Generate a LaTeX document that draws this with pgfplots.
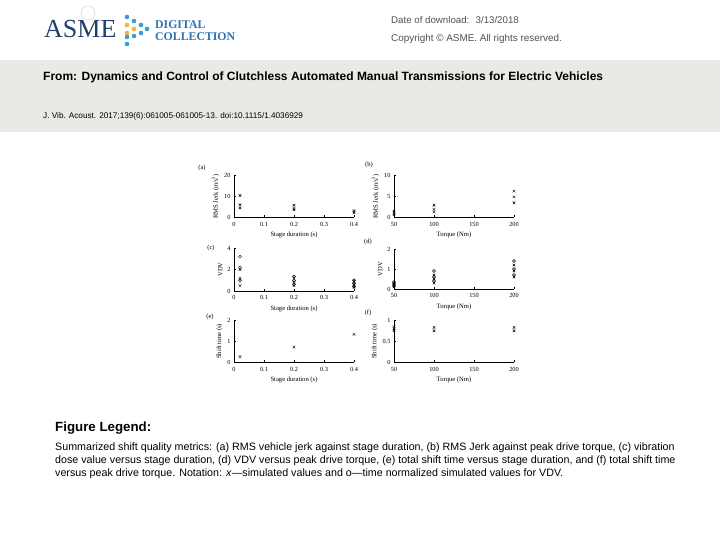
\documentclass[border=0pt]{standalone}
\usepackage{pgfplots}
\pgfplotsset{compat=1.18}
\usepackage{fontspec}
\setmainfont{Liberation Sans}
\newfontfamily\tnr{Liberation Serif}
\definecolor{band}{HTML}{EBE9E3}
\definecolor{asmenavy}{HTML}{1F3F6E}
\definecolor{asmeblue}{HTML}{3C9AD6}
\definecolor{asmeorange}{HTML}{F2B53A}
\definecolor{dcblue}{HTML}{2F74B5}
\definecolor{hdrgray}{HTML}{505050}
\pgfplotsset{sub/.style={scale only axis, width=120pt, clip=false,
  axis lines*=left, axis line style={black, line width=0.5pt},
  tick align=inside, major tick length=2pt, tick style={black, line width=0.4pt},
  tick label style={font=\tnr\fontsize{6.3}{7}\selectfont},
  label style={font=\tnr\fontsize{6.6}{7}\selectfont},
  /pgf/number format/assume math mode=true,
  xticklabel style={yshift=-1pt}, xlabel style={yshift=1pt}, ylabel style={yshift=-2pt}},
  xs/.style={only marks, black, mark=x, mark size=1.8pt, line width=0.45pt},
  os/.style={only marks, black, mark=o, mark size=1.5pt, line width=0.45pt},
  durx/.style={xmin=0, xmax=0.4, xtick={0,0.1,0.2,0.3,0.4},
  xticklabels={0,0.1,0.2,0.3,0.4}, xlabel={Stage duration (s)}},
  torx/.style={xmin=50, xmax=200, xtick={50,100,150,200}, xlabel={Torque (Nm)}}}
\begin{document}
\begin{tikzpicture}[x=1pt,y=1pt]
\fill[white] (0,0) rectangle (720,540);
\fill[band] (0,408) rectangle (720,480);
% logo
\node[anchor=west, text=asmenavy, font=\tnr\fontsize{26}{26}\selectfont, inner sep=0] at (44,511) {ASME};
\draw[gray!35, line width=0.5pt] (88,527) circle (7);
\foreach \p/\c in {{127,523}/asmeblue,{127,515}/asmeorange,{127,507}/asmeorange,{127,503}/asmeblue,{127,496}/asmeblue,
  {134,519}/asmeblue,{134,511}/asmeorange,{134,504}/asmeblue,{141,515}/asmeblue,{141,507}/asmeblue,{147,511}/asmeblue}
  \fill[\c] (\p) circle (2.3);
\node[anchor=west, text=dcblue, font=\tnr\bfseries\fontsize{11.8}{11.8}\selectfont, inner sep=0] at (155,515) {DIGITAL};
\node[anchor=west, text=dcblue, font=\tnr\bfseries\fontsize{11.8}{11.8}\selectfont, inner sep=0] at (155,503) {COLLECTION};
\node[anchor=west, text=hdrgray, font=\fontsize{9.7}{9.7}\selectfont, inner sep=0] at (391,520) {Date of download: \ 3/13/2018};
\node[anchor=west, text=hdrgray, font=\fontsize{9.9}{9.9}\selectfont, inner sep=0] at (391,501) {Copyright \textcopyright\ ASME. All rights reserved.};
\node[anchor=west, font=\bfseries\fontsize{12}{12}\selectfont, inner sep=0] at (43,463) {From: Dynamics and Control of Clutchless Automated Manual Transmissions for Electric Vehicles};
\node[anchor=west, font=\fontsize{8.2}{8.2}\selectfont, inner sep=0] at (43,424) {J. Vib. Acoust. 2017;139(6):061005-061005-13. doi:10.1115/1.4036929};
% caption
\node[anchor=west, font=\bfseries\fontsize{13.3}{13.3}\selectfont, inner sep=0] at (55,112) {Figure Legend:};
\node[anchor=west, font=\fontsize{10.7}{10.7}\selectfont, inner sep=0] at (55,92) {Summarized shift quality metrics: (a) RMS vehicle jerk against stage duration, (b) RMS Jerk against peak drive torque, (c) vibration};
\node[anchor=west, font=\fontsize{10.7}{10.7}\selectfont, inner sep=0] at (55,79) {dose value versus stage duration, (d) VDV versus peak drive torque, (e) total shift time versus stage duration, and (f) total shift time};
\node[anchor=west, font=\fontsize{10.7}{10.7}\selectfont, inner sep=0] at (55,66) {versus peak drive torque. Notation: \textit{x}---simulated values and o---time normalized simulated values for VDV.};
% panel letters
\foreach \p/\l in {{202,372}/a,{369,375}/b,{211,292}/c,{368,298}/d,{210,223}/e,{368,227}/f}
  \node[font=\tnr\fontsize{6.5}{6.5}\selectfont, inner sep=0] at (\p) {(\l)};
% (a)
\begin{axis}[sub, durx, at={(234pt,322.7pt)}, anchor=south west, height=41.6pt,
  ymin=0, ymax=20, ytick={0,10,20}, ylabel={RMS Jerk (m/s\textsuperscript{3})}]
\addplot[xs] coordinates {(0.02,10.5) (0.02,6) (0.02,4.5) (0.2,5.8) (0.2,4.3) (0.2,3.6) (0.4,3.2) (0.4,2.6) (0.4,2.1)};
\end{axis}
% (b)
\begin{axis}[sub, torx, at={(394pt,322.7pt)}, anchor=south west, height=41.6pt,
  ymin=0, ymax=10, ytick={0,5,10}, ylabel={RMS Jerk (m/s\textsuperscript{3})}]
\addplot[xs] coordinates {(50,1.5) (50,1.0) (50,0.6) (100,2.9) (100,1.9) (100,1.3) (200,6.3) (200,4.9) (200,3.5)};
\end{axis}
% (c)
\begin{axis}[sub, durx, at={(234pt,249pt)}, anchor=south west, height=43pt,
  ymin=0, ymax=4, ytick={0,2,4}, ylabel={VDV}]
\addplot[xs] coordinates {(0.02,2.0) (0.02,1.2) (0.02,0.5) (0.2,1.2) (0.2,0.8) (0.2,0.5) (0.4,0.9) (0.4,0.6) (0.4,0.35)};
\addplot[os] coordinates {(0.02,3.2) (0.02,2.2) (0.02,1.0) (0.2,1.35) (0.2,0.95) (0.2,0.6) (0.4,1.0) (0.4,0.7) (0.4,0.4)};
\end{axis}
% (d)
\begin{axis}[sub, torx, at={(394pt,251pt)}, anchor=south west, height=40pt,
  ymin=0, ymax=2, ytick={0,1,2}, ylabel={VDV}]
\addplot[xs] coordinates {(50,0.3) (50,0.2) (50,0.1) (100,0.7) (100,0.5) (100,0.3) (200,1.2) (200,0.9) (200,0.6)};
\addplot[os] coordinates {(50,0.35) (50,0.25) (50,0.15) (100,0.9) (100,0.6) (100,0.4) (200,1.4) (200,1.0) (200,0.7)};
\end{axis}
% (e)
\begin{axis}[sub, durx, at={(234pt,177.7pt)}, anchor=south west, height=42pt,
  ymin=0, ymax=2, ytick={0,1,2}, ylabel={Shift time (s)}]
\addplot[xs] coordinates {(0.02,0.27) (0.2,0.72) (0.4,1.33)};
\end{axis}
% (f)
\begin{axis}[sub, torx, at={(394pt,177.7pt)}, anchor=south west, height=42pt,
  ymin=0, ymax=1, ytick={0,0.5,1}, yticklabels={0,0.5,1}, ylabel={Shift time (s)}]
\addplot[xs] coordinates {(50,0.85) (50,0.8) (50,0.75) (100,0.83) (100,0.75) (200,0.83) (200,0.75)};
\end{axis}
\end{tikzpicture}
\end{document}
